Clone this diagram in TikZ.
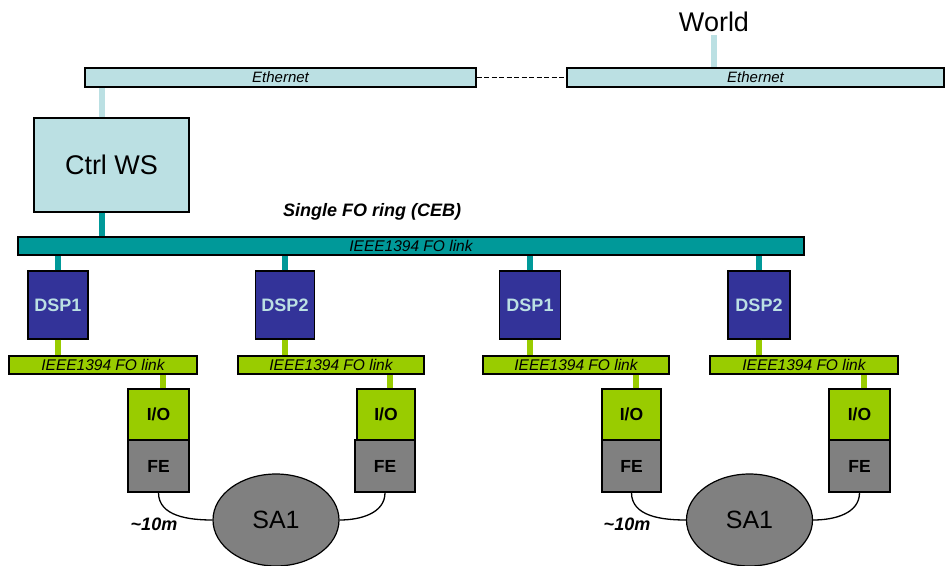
\documentclass[tikz,border=0pt]{standalone}
\usepackage{fontspec}
\setmainfont{Liberation Sans}
\usetikzlibrary{shapes.geometric,calc}
\definecolor{lcyan}{RGB}{187,224,227}
\definecolor{tealc}{RGB}{0,153,153}
\definecolor{navyc}{RGB}{51,51,153}
\definecolor{greenc}{RGB}{153,204,0}
\definecolor{grayc}{RGB}{128,128,128}
\newcommand{\fs}[1]{\fontsize{#1}{#1}\selectfont}
\begin{document}
\begin{tikzpicture}[x=1pt,y=-1pt,
  box/.style={draw=black,line width=1.3pt,inner sep=0pt,rectangle},
  ethbar/.style={box,fill=lcyan,minimum height=19pt,font=\fs{15}\itshape},
  fobar/.style={box,fill=tealc,minimum height=18pt,line width=1.5pt,font=\fs{15.5}\itshape},
  gbar/.style={box,fill=greenc,minimum height=18pt,font=\fs{15.5}\itshape},
  dspbox/.style={box,fill=navyc,minimum height=68pt,text=lcyan,font=\fs{18}\bfseries},
  iobox/.style={box,fill=greenc,minimum height=51pt,font=\fs{17.5}\bfseries},
  febox/.style={box,fill=grayc,minimum height=52pt,font=\fs{17.5}\bfseries},
  sabox/.style={ellipse,draw=black,line width=1.2pt,fill=grayc,minimum width=126pt,minimum height=92pt,inner sep=0pt,font=\fs{25}},
  cyanline/.style={draw=lcyan,line width=6pt},
  tealline/.style={draw=tealc,line width=6pt},
  greenline/.style={draw=greenc,line width=6pt},
  cable/.style={draw=black,line width=1.3pt},
  lbl/.style={font=\fs{18}\bfseries\itshape}
]
\useasboundingbox (0,0) rectangle (945,565);

% top
\node[ethbar,minimum width=391pt] (eth1) at (280.5,77.5) {Ethernet};
\node[ethbar,minimum width=377pt] (eth2) at (755.5,77.5) {Ethernet};
\node[font=\fs{27}] (world) at (714,22) {World};
\node[box,fill=lcyan,minimum width=155pt,minimum height=94pt,font=\fs{27}] (ctrl) at (111.5,165) {Ctrl WS};
\node[lbl] (ring) at (372,212) {Single FO ring (CEB)};
\node[fobar,minimum width=786pt] (fo) at (411,246) {IEEE1394 FO link};

% DSPs
\node[dspbox,minimum width=60pt] (dsp1a) at (58,305) {DSP1};
\node[dspbox,minimum width=59pt] (dsp2a) at (285,305) {DSP2};
\node[dspbox,minimum width=61pt] (dsp1b) at (530,305) {DSP1};
\node[dspbox,minimum width=62pt] (dsp2b) at (759,305) {DSP2};

% green bars
\node[gbar,minimum width=188pt] (g1) at (103,365) {IEEE1394 FO link};
\node[gbar,minimum width=186pt] (g2) at (331,365) {IEEE1394 FO link};
\node[gbar,minimum width=186pt] (g3) at (576,365) {IEEE1394 FO link};
\node[gbar,minimum width=188pt] (g4) at (804,365) {IEEE1394 FO link};

% I/O and FE
\node[iobox,minimum width=61pt] (io1) at (158.5,414.5) {I/O};
\node[iobox,minimum width=58pt] (io2) at (386,414.5) {I/O};
\node[iobox,minimum width=59pt] (io3) at (631.5,414.5) {I/O};
\node[iobox,minimum width=61pt] (io4) at (859.5,414.5) {I/O};
\node[febox,minimum width=61pt] (fe1) at (158.5,466) {FE};
\node[febox,minimum width=60pt] (fe2) at (385,466) {FE};
\node[febox,minimum width=59pt] (fe3) at (631.5,466) {FE};
\node[febox,minimum width=61pt] (fe4) at (859.5,466) {FE};

% SA
\node[sabox] (sa1) at (276,520) {SA1};
\node[sabox] (sa2) at (749.5,520) {SA1};
\node[lbl] (d1) at (154,524) {\textasciitilde 10m};
\node[lbl] (d2) at (627,524) {\textasciitilde 10m};

% connectors
\draw[cable,dash pattern=on 5pt off 2.5pt] (eth1.east) -- (eth2.west);
\draw[cyanline] (world.south) -- (world.south |- eth2.north);
\draw[cyanline] ([xshift=69pt]ctrl.north west) -- ([xshift=69pt]ctrl.north west |- eth1.south);
\draw[tealline] ([xshift=69pt]ctrl.south west) -- ([xshift=69pt]ctrl.south west |- fo.north);
\foreach \d in {dsp1a,dsp2a,dsp1b,dsp2b}{
  \draw[tealline] (\d.north) -- (\d.north |- fo.south);
}
\draw[greenline] (dsp1a.south) -- (dsp1a.south |- g1.north);
\draw[greenline] (dsp2a.south) -- (dsp2a.south |- g2.north);
\draw[greenline] (dsp1b.south) -- (dsp1b.south |- g3.north);
\draw[greenline] (dsp2b.south) -- (dsp2b.south |- g4.north);
\draw[greenline] ([xshift=4pt]io1.north) -- ([xshift=4pt]io1.north |- g1.south);
\draw[greenline] ([xshift=4pt]io2.north) -- ([xshift=4pt]io2.north |- g2.south);
\draw[greenline] ([xshift=4pt]io3.north) -- ([xshift=4pt]io3.north |- g3.south);
\draw[greenline] ([xshift=4pt]io4.north) -- ([xshift=4pt]io4.north |- g4.south);

% cables
\draw[cable] (fe1.south) to[out=-90,in=180] (sa1.west);
\draw[cable] (fe2.south) to[out=-90,in=0] (sa1.east);
\draw[cable] (fe3.south) to[out=-90,in=180] (sa2.west);
\draw[cable] (fe4.south) to[out=-90,in=0] (sa2.east);
\end{tikzpicture}
\end{document}
